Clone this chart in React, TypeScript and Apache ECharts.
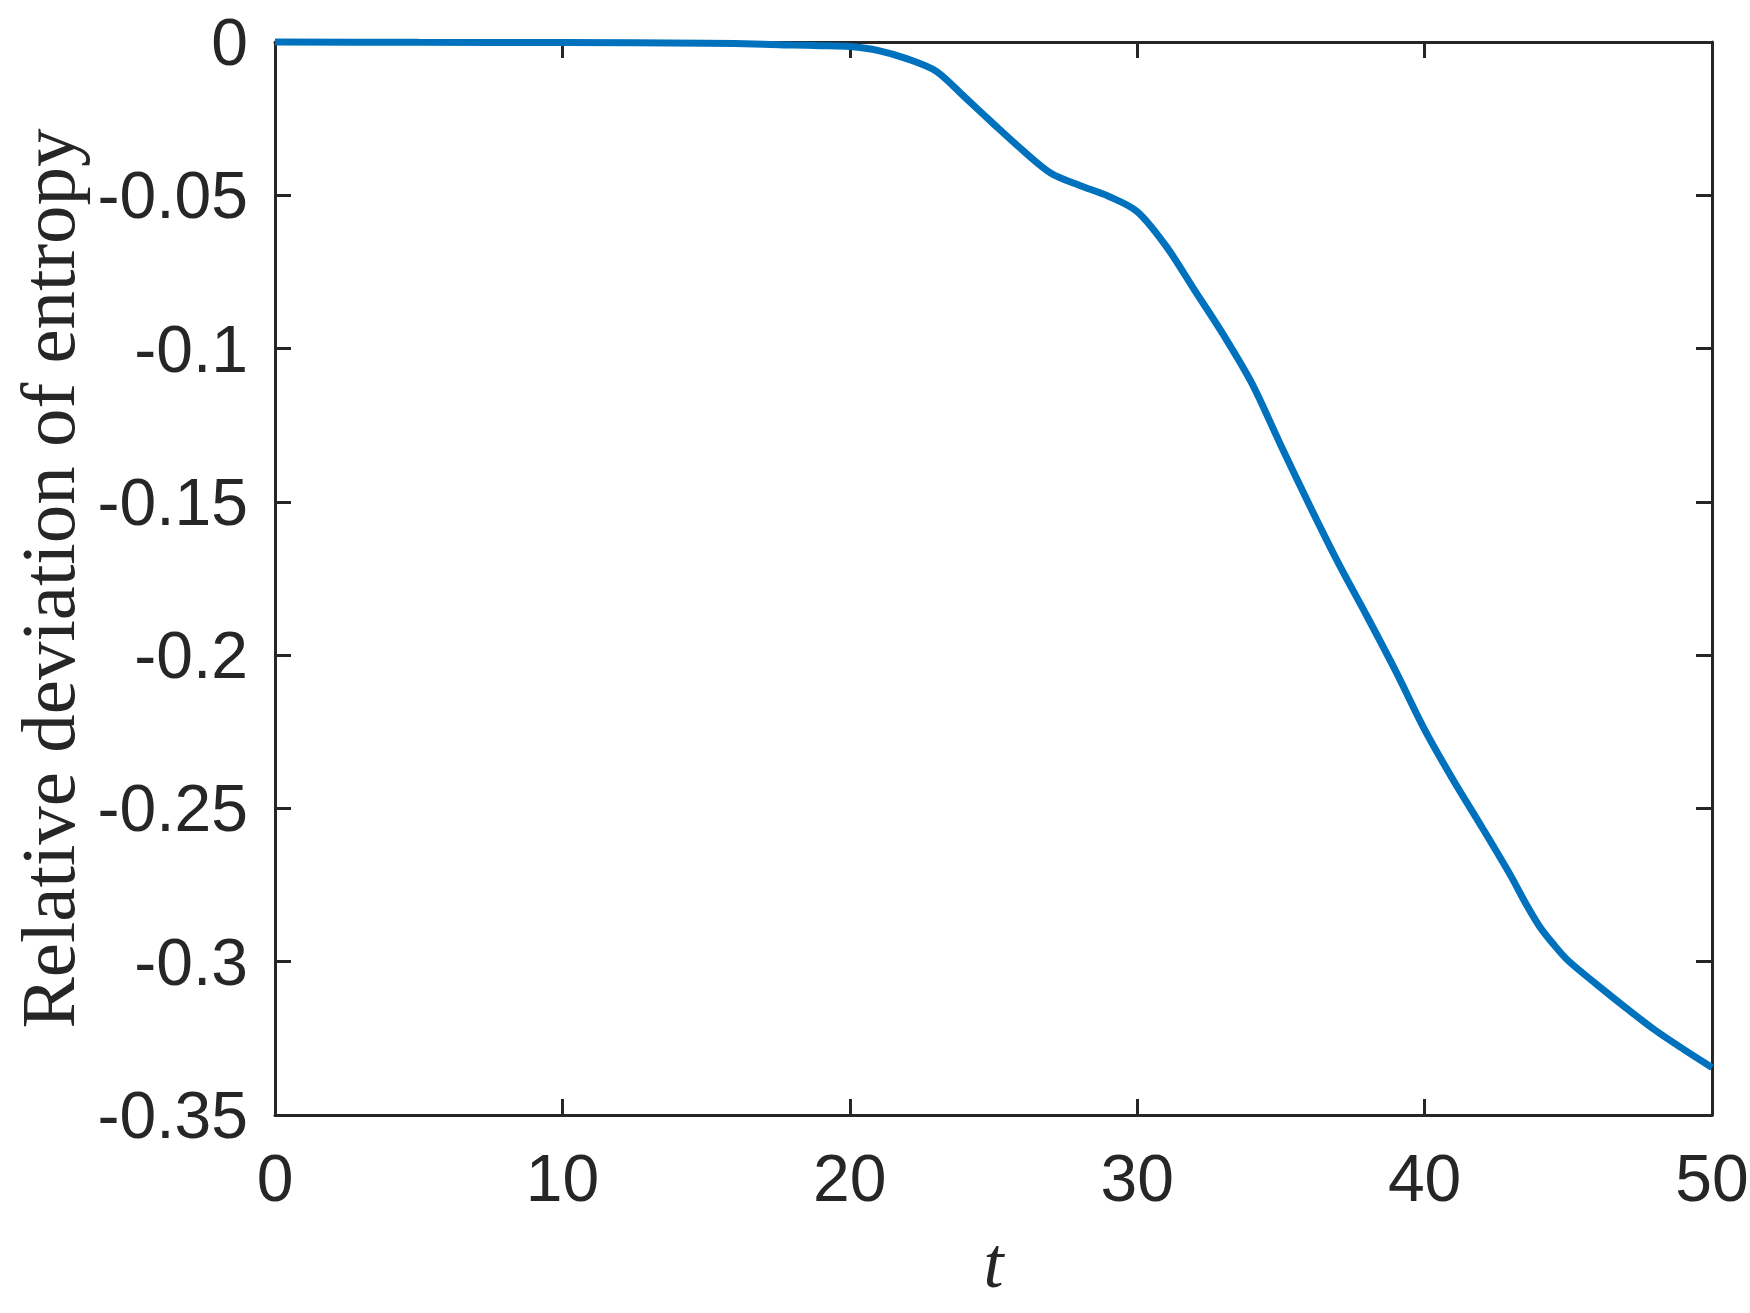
import React, { useEffect, useRef } from "react";
import * as echarts from "echarts";

const tValues = [0, 5, 10, 15, 17, 18, 19, 20, 21, 22, 23, 24, 25, 26, 27, 28, 29, 30, 31, 32, 33, 34, 35, 36, 37, 38, 39, 40, 41, 42, 43, 43.5, 44, 44.5, 45, 46, 47, 48, 49, 50];
const deviation = [0, -0.0001, -0.0002, -0.0004, -0.0007, -0.001, -0.0012, -0.0015, -0.0028, -0.0055, -0.0095, -0.018, -0.0267, -0.0352, -0.0428, -0.0468, -0.0503, -0.0553, -0.0665, -0.081, -0.0955, -0.1115, -0.1316, -0.1512, -0.17, -0.1874, -0.2053, -0.2243, -0.2408, -0.2562, -0.272, -0.2807, -0.2885, -0.2945, -0.2997, -0.3075, -0.315, -0.3222, -0.3285, -0.3345];

const xTicks = { min: 0, max: 50, interval: 10 };
const yTicks = { min: -0.35, max: 0, interval: 0.05 };

const yTitle = "Relative deviation of entropy";
const xTitle = "t";

export default function App() {
  const ref = useRef<HTMLDivElement>(null);
  useEffect(() => {
    if (!ref.current) return;
    const chart = echarts.init(ref.current, null, { renderer: "svg" });
    const axisColor = "#262626";
    const labelFont = { fontFamily: "Liberation Sans, Arial, sans-serif", fontSize: 66, color: axisColor };
    const lineStyle = { color: axisColor, width: 3 };
    chart.setOption({
      animation: false,
      backgroundColor: "#ffffff",
      grid: { left: 275, right: 38, top: 42, bottom: 198, containLabel: false, outerBoundsMode: "none" },
      xAxis: [
        {
          type: "value",
          min: xTicks.min,
          max: xTicks.max,
          interval: xTicks.interval,
          position: "bottom",
          axisLine: { show: true, onZero: false, lineStyle },
          axisTick: { show: true, inside: true, length: 16, lineStyle },
          axisLabel: { ...labelFont, margin: 30 },
          splitLine: { show: false },
          name: xTitle,
          nameLocation: "middle",
          nameGap: 112,
          nameTextStyle: { fontFamily: "Liberation Serif, Times New Roman, serif", fontStyle: "italic", fontSize: 72, color: axisColor },
        },
        {
          type: "value",
          min: xTicks.min,
          max: xTicks.max,
          interval: xTicks.interval,
          position: "top",
          axisLine: { show: true, onZero: false, lineStyle },
          axisTick: { show: true, inside: true, length: 16, lineStyle },
          axisLabel: { show: false },
          splitLine: { show: false },
        },
      ],
      yAxis: [
        {
          type: "value",
          min: yTicks.min,
          max: yTicks.max,
          interval: yTicks.interval,
          position: "left",
          axisLine: { show: true, onZero: false, lineStyle },
          axisTick: { show: true, inside: true, length: 16, lineStyle },
          axisLabel: { ...labelFont, margin: 27 },
          splitLine: { show: false },
          name: yTitle,
          nameLocation: "middle",
          nameRotate: 90,
          nameGap: 189,
          nameTextStyle: { fontFamily: "Liberation Serif, Times New Roman, serif", fontSize: 77, color: axisColor },
        },
        {
          type: "value",
          min: yTicks.min,
          max: yTicks.max,
          interval: yTicks.interval,
          position: "right",
          axisLine: { show: true, onZero: false, lineStyle },
          axisTick: { show: true, inside: true, length: 16, lineStyle },
          axisLabel: { show: false },
          splitLine: { show: false },
        },
      ],
      series: [
        {
          type: "line",
          xAxisIndex: 0,
          yAxisIndex: 0,
          data: tValues.map((t, i) => [t, deviation[i]]),
          showSymbol: false,
          smooth: 0.3,
          clip: false,
          lineStyle: { color: "#0072BD", width: 7 },
          z: 5,
        },
      ],
    });
    return () => chart.dispose();
  }, []);
  return <div ref={ref} style={{ position: "fixed", left: 0, top: 0, width: 1750, height: 1313 }} />;
}
